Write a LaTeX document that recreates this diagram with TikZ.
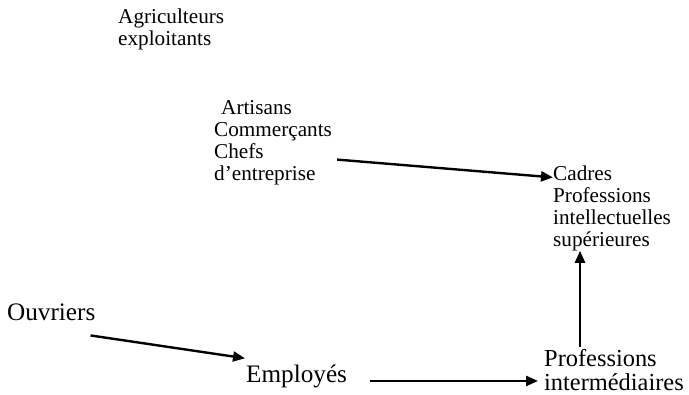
\documentclass[tikz,border=0pt]{standalone}
\usepackage{fontspec}
\setmainfont{Liberation Serif}
\usetikzlibrary{arrows.meta,calc}
\begin{document}
\begin{tikzpicture}[x=1pt,y=-1pt,
  topt/.style={inner sep=0pt,anchor=base west,font=\fontsize{21.2}{22}\selectfont},
  bott/.style={inner sep=0pt,anchor=base west,font=\fontsize{25.2}{23}\selectfont},
  arr/.style={line width=2.4pt,-{Triangle[length=12pt,width=10pt]}}]
\useasboundingbox (0,0) rectangle (689,395);
\node[topt] (agr) at (118,24) {\begin{tabular}[t]{@{}l@{}}Agriculteurs\\exploitants\end{tabular}};
\node[topt] (art) at (214,115) {\begin{tabular}[t]{@{}l@{}}\hspace{7pt}Artisans\\Commerçants\\Chefs\\d’entreprise\end{tabular}};
\node[topt] (cad) at (553,181) {\begin{tabular}[t]{@{}l@{}}Cadres\\Professions\\intellectuelles\\supérieures\end{tabular}};
\node[bott] (ouv) at (7,321) {Ouvriers};
\node[bott] (emp) at (246,383) {Employés};
\node[bott,font=\fontsize{24.4}{23}\selectfont] (pro) at (544,367) {\begin{tabular}[t]{@{}l@{}}Professions\\intermédiaires\end{tabular}};
% arrows
\draw[arr] ([shift={(5,16)}]art.east) -- ([shift={(0,12)}]cad.north west);
\draw[arr] ([shift={(-5,14)}]ouv.south east) -- ([shift={(-1,-7)}]emp.north west);
\draw[arr] ([shift={(23,4)}]emp.east) coordinate (e1) -- ($(e1 -| pro.west)+(-6,0)$);
\draw[arr] ([shift={(36,-3)}]pro.north west) coordinate (p1) -- ($(p1 |- cad.south)+(0,-3)$);
\end{tikzpicture}
\end{document}
